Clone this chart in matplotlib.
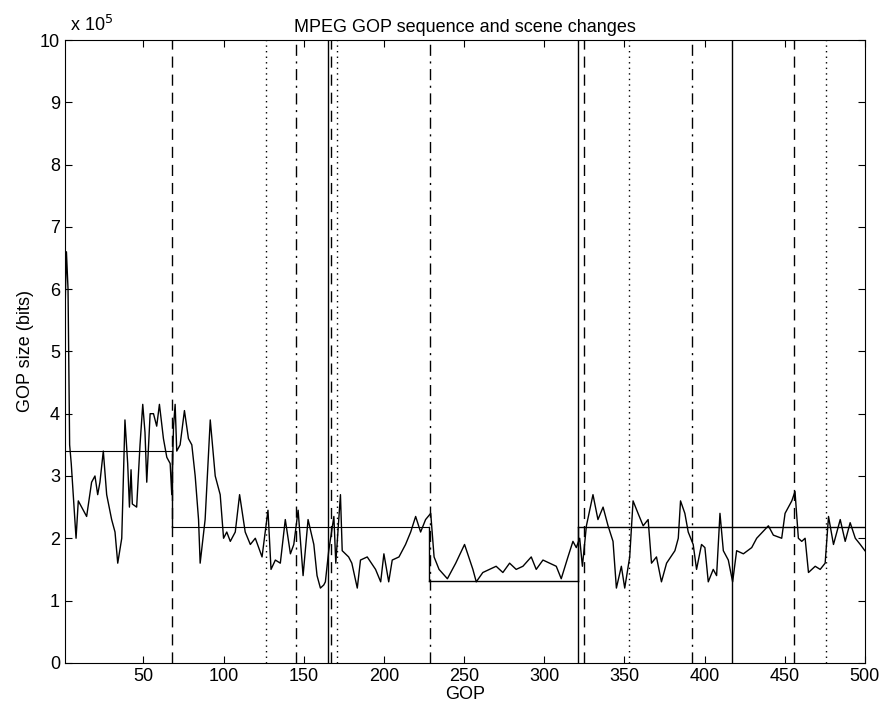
import matplotlib.pyplot as plt
import numpy as np

plt.rcParams['font.family'] = ['Liberation Sans', 'DejaVu Sans']

# GOP size trace (units of 1e5 bits)
gop = [1, 2, 3, 4, 5, 8, 9.4, 13.5, 14.6, 17.7, 19.8, 21.5, 22.9, 25, 27.1, 30.2, 32.3, 34,
       36.5, 38.5, 40.2, 41.3, 42.3, 43.1, 45.8, 47.9, 49.6, 51, 52.1, 54.2, 56.3, 58.3, 60,
       62.5, 64.6, 66.7, 67.7, 68.8, 69.8, 70.8, 72.9, 75.6, 78.1, 80.2, 82.3, 84.4, 85.4,
       88.5, 91.7, 94.8, 97.9, 100, 102, 104.2, 107.3, 110, 113.5, 116.7, 119.8, 124, 127.7,
       129.6, 132.3, 135.4, 138.5, 141.7, 143.8, 146.5, 149.6, 152.7, 156.3, 158.3, 160.4,
       162.5, 163.5, 165.6, 168.8, 170, 172.9, 174, 178, 180, 183.4, 185.4, 189.6, 194.8, 198,
       200, 203, 205.2, 209.4, 213.5, 216.7, 219.8, 222.9, 226, 229.2, 231.3, 234.4, 239.6,
       244.8, 250.3, 255.5, 257.6, 261.7, 265.9, 270, 274.2, 278.4, 282.5, 286.7, 291.9, 295,
       299.2, 303.3, 307.5, 310.6, 314.8, 317.9, 320, 322.1, 323.8, 326.3, 330.4, 333.5, 336.7,
       339.8, 342.9, 345, 348.1, 350.2, 353.3, 355.4, 358.5, 361.7, 364.8, 366.9, 370, 373.1,
       376.3, 381.5, 383.6, 385, 387.7, 389.8, 392.9, 395, 398.1, 400.2, 402.3, 405.4, 407.5,
       409.6, 411.7, 414.8, 417.5, 420, 424.2, 429.4, 432.5, 439.8, 442.9, 448.1, 450.2, 454.4,
       456.4, 458.5, 460.6, 462.7, 464.8, 469, 472.1, 475.2, 477.3, 480.4, 484.6, 487.7, 490.8,
       494, 497.1, 500]
size = [5.5, 6.6, 6.0, 3.5, 3.2, 2.0, 2.6, 2.4, 2.35, 2.9, 3.0, 2.7, 2.9, 3.4, 2.7, 2.3, 2.1, 1.6,
        2.0, 3.9, 3.2, 2.5, 3.1, 2.55, 2.5, 3.5, 4.15, 3.7, 2.9, 4.0, 4.0, 3.8, 4.15,
        3.6, 3.3, 3.2, 2.7, 3.8, 4.15, 3.4, 3.5, 4.05, 3.6, 3.5, 3.0, 2.3, 1.6,
        2.3, 3.9, 3.0, 2.7, 2.0, 2.1, 1.95, 2.1, 2.7, 2.1, 1.9, 2.0, 1.7, 2.45,
        1.5, 1.65, 1.6, 2.3, 1.75, 1.9, 2.45, 1.4, 2.3, 1.9, 1.4, 1.2,
        1.25, 1.3, 1.8, 2.35, 1.6, 2.7, 1.8, 1.7, 1.6, 1.2, 1.65, 1.7, 1.5, 1.3,
        1.75, 1.3, 1.65, 1.7, 1.9, 2.1, 2.35, 2.1, 2.3, 2.4, 1.7, 1.5, 1.35,
        1.6, 1.9, 1.5, 1.3, 1.45, 1.5, 1.55, 1.45, 1.6, 1.5, 1.55, 1.7, 1.5,
        1.65, 1.6, 1.55, 1.35, 1.7, 1.95, 1.85, 2.0, 1.55, 2.2, 2.7, 2.3, 2.5,
        2.2, 1.95, 1.2, 1.55, 1.2, 1.7, 2.6, 2.4, 2.2, 2.3, 1.6, 1.7, 1.3,
        1.6, 1.8, 2.0, 2.6, 2.4, 2.1, 1.9, 1.5, 1.9, 1.85, 1.3, 1.5, 1.4,
        2.4, 1.8, 1.65, 1.3, 1.8, 1.75, 1.85, 2.0, 2.2, 2.05, 2.0, 2.4, 2.6,
        2.75, 2.0, 1.95, 2.0, 1.45, 1.55, 1.5, 1.6, 2.35, 1.9, 2.3, 1.95, 2.25,
        2.0, 1.9, 1.8]

# scene segments: start, end, mean level
seg_start = [1, 68, 228, 321]
seg_end = [68, 228, 321, 500]
seg_level = [3.4, 2.18, 1.32, 2.18]

# detected scene changes by style
solid_cuts = [165, 321, 417]
dashed_cuts = [68, 167, 325, 456]
dashdot_cuts = [145, 228.5, 392]
dotted_cuts = [126.5, 171, 353, 476]

fig = plt.figure(figsize=(8.88, 7.15), dpi=100)
ax = fig.add_axes([0.073, 0.073, 0.901, 0.871])

ax.plot(gop, size, color='black', lw=1.0)

for i in range(len(seg_start)):
    ax.plot([seg_start[i], seg_end[i]], [seg_level[i], seg_level[i]], color='black',
            lw=1.0 if i >= 2 else 0.8)
for i in range(1, len(seg_start)):
    ax.plot([seg_start[i], seg_start[i]], [seg_level[i - 1], seg_level[i]], color='black', lw=1.0)

for x in solid_cuts:
    ax.axvline(x, color='black', lw=1.0, ls='-')
for x in dashed_cuts:
    ax.axvline(x, color='black', lw=1.0, ls=(0, (8, 5)))
for x in dashdot_cuts:
    ax.axvline(x, color='black', lw=1.0, ls=(0, (8, 4, 1.5, 4)))
for x in dotted_cuts:
    ax.axvline(x, color='black', lw=1.0, ls=(0, (1, 3)))

ax.set_xlim(1, 500)
ax.set_ylim(0, 10)
ax.set_xticks(range(50, 501, 50))
ax.set_yticks(range(0, 11))
ax.tick_params(direction='in', labelsize=13, length=5, top=True, right=True,
               labeltop=False, labelright=False)
ax.set_xlabel('GOP', fontsize=13, labelpad=1)
ax.set_ylabel('GOP size (bits)', fontsize=13)
ax.set_title('MPEG GOP sequence and scene changes', fontsize=13, pad=6)
ax.text(0.0, 1.008, r' x 10$^5$', transform=ax.transAxes, fontsize=13, va='bottom')

fig.savefig('out.png', dpi=100)
